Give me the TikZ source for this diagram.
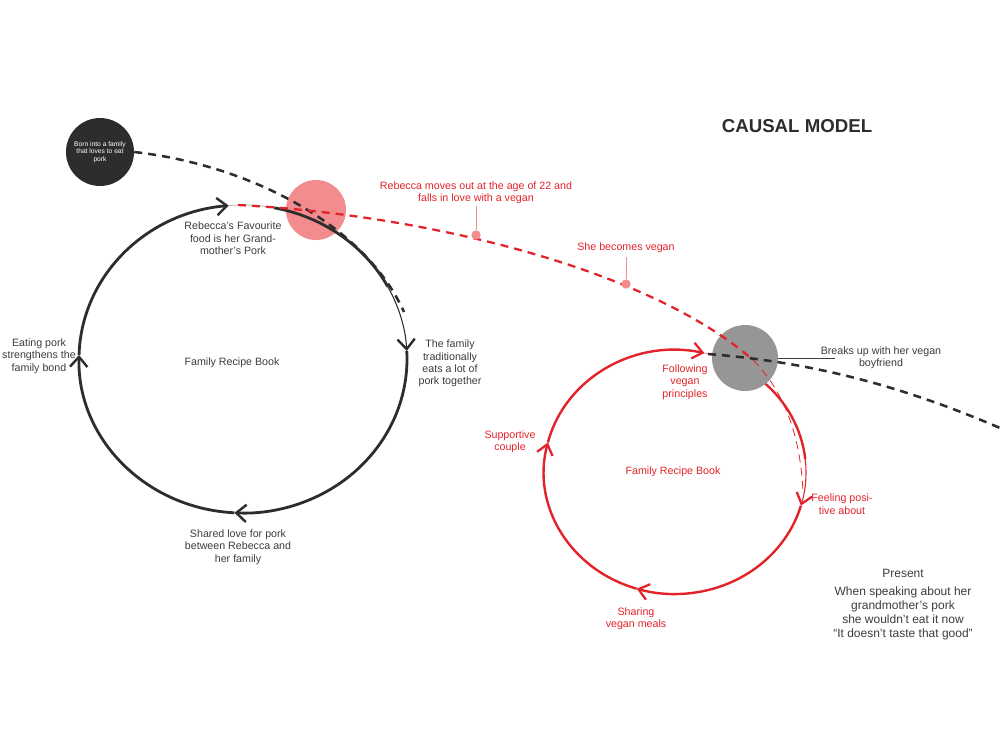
\documentclass[tikz,border=0pt]{standalone}
\usepackage{fontspec}
\setmainfont{Liberation Sans}
\usetikzlibrary{arrows.meta}
\definecolor{ink}{RGB}{45,45,45}
\definecolor{txt}{RGB}{60,60,60}
\definecolor{vred}{RGB}{226,35,42}
\definecolor{pinkc}{RGB}{242,140,142}
\definecolor{grayc}{RGB}{150,150,150}
\tikzset{
  lbl/.style={font=\fontsize{8}{9.3}\selectfont, align=center, text=txt, inner sep=0pt},
  rlbl/.style={lbl, text=vred},
  bbarb/.style={-{Straight Barb[length=7.5pt,width=13pt,line width=1.8pt]}},
  rbarb/.style={-{Straight Barb[length=7.5pt,width=12pt,line width=1.7pt]}},
  bloop/.style={draw=ink, line width=2.1pt},
  bthin/.style={draw=ink, line width=0.8pt},
  bfaint/.style={draw=ink!35, line width=0.6pt},
  rloop/.style={draw=vred, line width=1.8pt},
  rthin/.style={draw=vred, line width=0.8pt},
  rfaint/.style={draw=pinkc, line width=0.6pt},
  bdash/.style={draw=ink, line width=1.9pt, dash pattern=on 6pt off 4.5pt},
  rdash/.style={draw=vred, line width=1.7pt, dash pattern=on 6pt off 4.5pt},
  rdashthin/.style={draw=vred, line width=0.6pt, dash pattern=on 6pt off 4pt},
  event/.style={circle, inner sep=0pt},
  dot/.style={circle, fill=pinkc, minimum size=7pt, inner sep=0pt},
  leader/.style={draw=pinkc, line width=0.6pt},
}
\begin{document}
\begin{tikzpicture}[x=0.75pt,y=-0.75pt]
\useasboundingbox (0,0) rectangle (1000,750);

% title
\node[font=\bfseries\fontsize{14}{16}\selectfont, text=ink] (title) at (797,126) {CAUSAL MODEL};

% event circles (under the loops)
\node[event, fill=ink, minimum size=51pt, font=\fontsize{5}{5.7}\selectfont, text=white, align=center] (born) at (100,152) {Born into a family\\that loves to eat\\pork};
\node[event, fill=pinkc, minimum size=45pt] (moves) at (316,210) {};

% black loop
\coordinate (bc) at (243,359);
\draw[bfaint] (bc) ++(265:164 and 154) arc[start angle=265, end angle=281, x radius=164, y radius=154];
\draw[bloop] (bc) ++(281:164 and 154) arc[start angle=281, end angle=332, x radius=164, y radius=154];
\draw[bthin, bbarb] (bc) ++(332:164 and 154) arc[start angle=332, end angle=357, x radius=164, y radius=154];
\draw[bloop, bbarb] (bc) ++(357:164 and 154) arc[start angle=357, end angle=453, x radius=164, y radius=154];
\draw[bloop, bbarb] (bc) ++(453:164 and 154) arc[start angle=453, end angle=541.5, x radius=164, y radius=154];
\draw[bloop, bbarb] (bc) ++(541.5:164 and 154) arc[start angle=541.5, end angle=625, x radius=164, y radius=154];

% red loop
\coordinate (rc) at (675,472);
\draw[rfaint] (rc) ++(-77:131 and 122) arc[start angle=-77, end angle=-48, x radius=131, y radius=122];
\draw[rloop] (rc) ++(-48:131 and 122) arc[start angle=-48, end angle=-6, x radius=131, y radius=122];
\draw[rthin, rbarb] (rc) ++(-6:131 and 122) arc[start angle=-6, end angle=16, x radius=131, y radius=122];
\draw[rloop, rbarb] (rc) ++(16:131 and 122) arc[start angle=16, end angle=107, x radius=131, y radius=122];
\draw[rloop, rbarb] (rc) ++(107:131 and 122) arc[start angle=107, end angle=194, x radius=131, y radius=122];
\draw[rloop, rbarb] (rc) ++(194:131 and 122) arc[start angle=194, end angle=283, x radius=131, y radius=122];

\node[event, fill=grayc, minimum size=49.5pt] (breaks) at (745,358) {};

% dashed timelines
\coordinate (bend1) at (404,312);
\draw[bdash] (born.east) .. controls (250,165) and (365,225) .. (bend1);

\coordinate (rstart) at (238,205);
\coordinate (rmid) at (753,360);
\coordinate (rend) at (803,492);
\draw[rdash] (rstart) .. controls (430,215) and (650,270) .. (rmid);
\draw[rdashthin] (rmid) .. controls (778,385) and (800,425) .. (rend);

\coordinate (bstart) at (708,354);
\coordinate (bend2) at (1000,428);
\draw[bdash] (bstart) .. controls (810,362) and (900,385) .. (bend2);

% dots and leaders on red line
\node[dot] (d1) at (476,235) {};
\node[dot] (d2) at (626,284) {};
\node[rlbl] (l1) at (476,193) {Rebecca moves out at the age of 22 and\\falls in love with a vegan};
\node[rlbl] (l2) at (626,248) {She becomes vegan};
\coordinate (l1b) at (476,206);
\coordinate (l2b) at (626,257);
\draw[leader] (l1b) -- (d1);
\draw[leader] (l2b) -- (d2);

% breakup label
\node[lbl] (l3) at (881,358) {Breaks up with her vegan\\boyfriend};
\coordinate (l3w) at (835,358);
\draw[draw=txt, line width=0.6pt] (breaks.east) -- (l3w);

% black loop labels
\node[lbl] (b1) at (233,238.5) {Rebecca’s Favourite\\food is her Grand-\\mother’s Pork};
\node[lbl] (b2) at (450,363.5) {The family\\traditionally\\eats a lot of\\pork together};
\node[lbl] (b3) at (238,547) {Shared love for pork\\between Rebecca and\\her family};
\node[lbl] (b4) at (39,356) {Eating pork\\strengthens the\\family bond};
\node[lbl] (b5) at (232,363) {Family Recipe Book};

% red loop labels
\node[rlbl] (r1) at (685,382) {Following\\vegan\\principles};
\node[rlbl] (r2) at (510,442) {Supportive\\couple};
\node[rlbl] (r3) at (673,472) {Family Recipe Book};
\node[rlbl] (r4) at (842,504) {Feeling posi-\\tive about};
\node[rlbl] (r5) at (636,619) {Sharing\\vegan meals};

% present
\node[lbl, font=\fontsize{9}{10.5}\selectfont] (p1) at (903,573) {Present};
\node[lbl, font=\fontsize{9}{10.5}\selectfont] (p2) at (903,613.5) {When speaking about her\\grandmother’s pork\\she wouldn’t eat it now\\“It doesn’t taste that good”};
\end{tikzpicture}
\end{document}
